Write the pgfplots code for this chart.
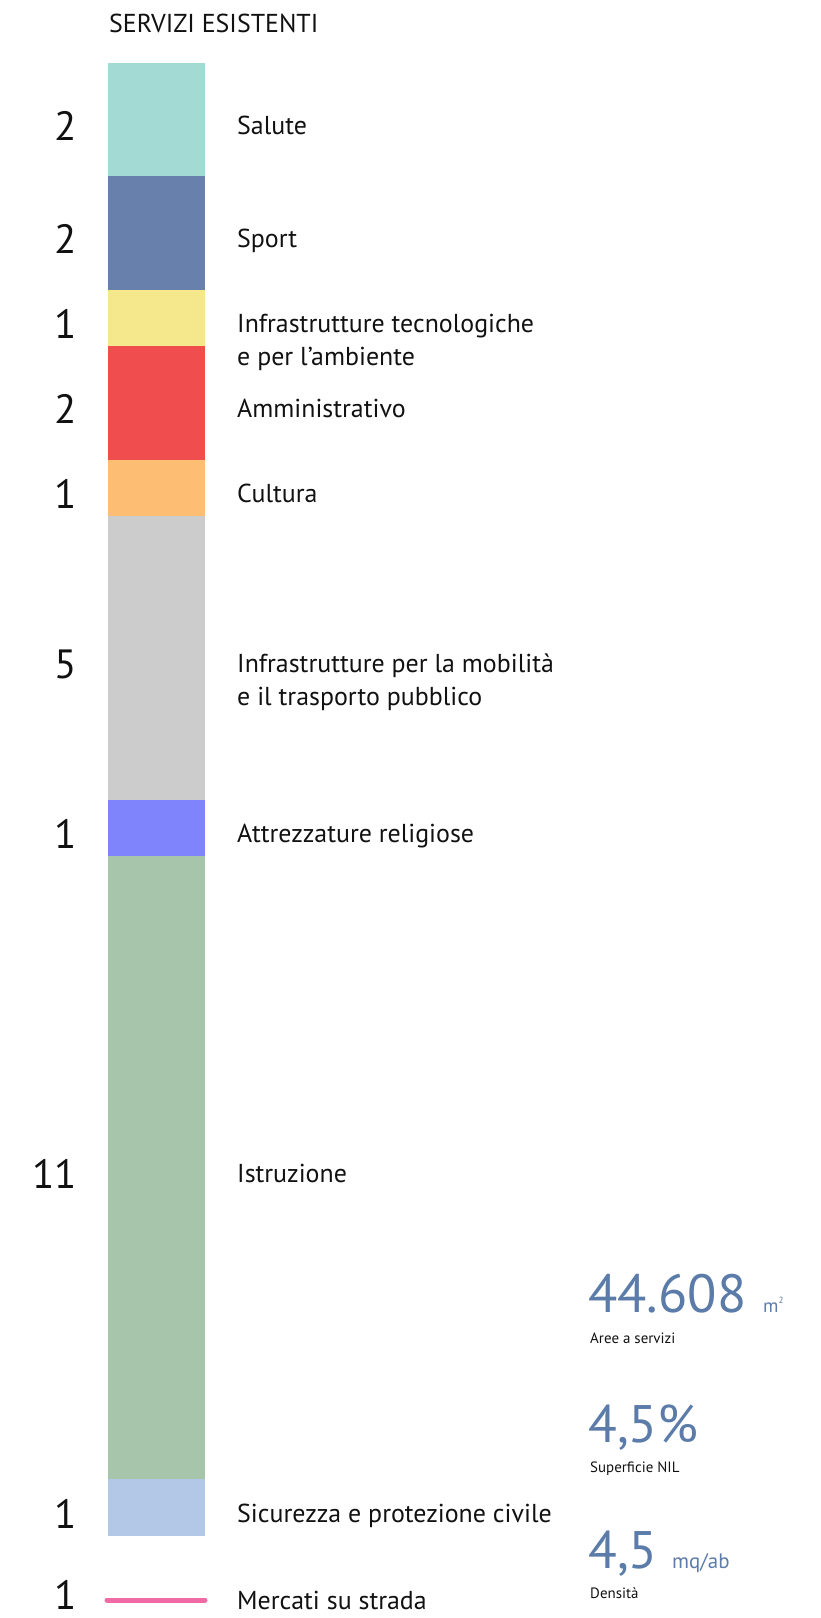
\documentclass[border=0pt]{standalone}
\usepackage{fontspec}
\setmainfont{PT Sans}
\usepackage{pgfplots}
\pgfplotsset{compat=1.18}
\definecolor{csalute}{HTML}{A3DBD4}
\definecolor{csport}{HTML}{6780AC}
\definecolor{cinfra}{HTML}{F4E78C}
\definecolor{camm}{HTML}{F04E4E}
\definecolor{ccult}{HTML}{FDBE73}
\definecolor{cmob}{HTML}{CCCCCC}
\definecolor{crel}{HTML}{7F83FC}
\definecolor{cistr}{HTML}{A7C5AA}
\definecolor{csic}{HTML}{B3C7E6}
\definecolor{cpink}{HTML}{F06AA5}
\definecolor{cblue}{HTML}{5B7BA8}
\definecolor{ctext}{HTML}{111111}
\newcommand{\labfont}{\fontsize{26}{33}\selectfont}
\newcommand{\numfont}{\fontsize{41}{41}\selectfont}
\tikzset{tl/.style={inner sep=0pt, text=ctext, anchor=base west},
  tn/.style={inner sep=0pt, text=ctext, anchor=base east}}
\begin{document}
\begin{tikzpicture}
\pgfplotsset{base/.style={x=1bp, y=56.65bp, xmin=0, xmax=820, ymin=-1.1121, ymax=27.4475,
  y dir=reverse, axis lines=none, clip=false}}
\begin{axis}[base, ybar stacked, bar width=97bp]
\addplot[fill=csalute, draw=none] coordinates {(156.5,2)};
\addplot[fill=csport, draw=none] coordinates {(156.5,2)};
\addplot[fill=cinfra, draw=none] coordinates {(156.5,1)};
\addplot[fill=camm, draw=none] coordinates {(156.5,2)};
\addplot[fill=ccult, draw=none] coordinates {(156.5,1)};
\addplot[fill=cmob, draw=none] coordinates {(156.5,5)};
\addplot[fill=crel, draw=none] coordinates {(156.5,1)};
\addplot[fill=cistr, draw=none] coordinates {(156.5,11)};
\addplot[fill=csic, draw=none] coordinates {(156.5,1)};
\coordinate (bbA) at (rel axis cs:0,0);
\coordinate (bbB) at (rel axis cs:1,1);
\node[tl] at (axis cs:109,-0.53) {\labfont SERVIZI ESISTENTI};
\node[tn] at (axis cs:77,1.37) {\numfont 2};
\node[tn] at (axis cs:77,3.37) {\numfont 2};
\node[tn] at (axis cs:77,4.87) {\numfont 1};
\node[tn] at (axis cs:77,6.37) {\numfont 2};
\node[tn] at (axis cs:77,7.87) {\numfont 1};
\node[tn] at (axis cs:77,10.87) {\numfont 5};
\node[tn] at (axis cs:77,13.87) {\numfont 1};
\node[tn] at (axis cs:77,19.87) {\numfont 11};
\node[tn] at (axis cs:77,25.87) {\numfont 1};
\node[tn] at (axis cs:77,27.29) {\numfont 1};
\node[tl] at (axis cs:237,1.265) {\labfont Salute};
\node[tl] at (axis cs:237,3.265) {\labfont Sport};
\node[tl] at (axis cs:237,4.765) {\labfont Infrastrutture tecnologiche};
\node[tl] at (axis cs:237,5.347) {\labfont e per l\symbol{"27}ambiente};
\node[tl] at (axis cs:237,6.265) {\labfont Amministrativo};
\node[tl] at (axis cs:237,7.765) {\labfont Cultura};
\node[tl] at (axis cs:237,10.765) {\labfont Infrastrutture per la mobilità};
\node[tl] at (axis cs:237,11.347) {\labfont e il trasporto pubblico};
\node[tl] at (axis cs:237,13.765) {\labfont Attrezzature religiose};
\node[tl] at (axis cs:237,19.765) {\labfont Istruzione};
\node[tl] at (axis cs:237,25.765) {\labfont Sicurezza e protezione civile};
\node[tl] at (axis cs:237,27.30) {\labfont Mercati su strada};
\node[tl, text=cblue] at (axis cs:588,22.048) {\fontsize{54}{54}\selectfont 44.608};
\node[tl, text=cblue] at (axis cs:763,22.048) {\fontsize{19}{19}\selectfont m\raisebox{0.45em}{\fontsize{9}{9}\selectfont 2}};
\node[tl] at (axis cs:590,22.595) {\fontsize{15}{15}\selectfont Aree a servizi};
\node[tl, text=cblue] at (axis cs:588,24.342) {\fontsize{53}{53}\selectfont 4,5\%};
\node[tl] at (axis cs:590,24.872) {\fontsize{15}{15}\selectfont Superficie NIL};
\node[tl, text=cblue] at (axis cs:588,26.567) {\fontsize{53}{53}\selectfont 4,5};
\node[tl, text=cblue] at (axis cs:672,26.567) {\fontsize{21}{21}\selectfont mq/ab};
\node[tl] at (axis cs:590,27.097) {\fontsize{15}{15}\selectfont Densità};
\end{axis}
\begin{axis}[base]
\addplot[cpink, line width=5bp, line cap=round] coordinates {(107,27.131) (205,27.131)};
\end{axis}
\pgfresetboundingbox
\useasboundingbox (bbA) rectangle (bbB);
\end{tikzpicture}
\end{document}
